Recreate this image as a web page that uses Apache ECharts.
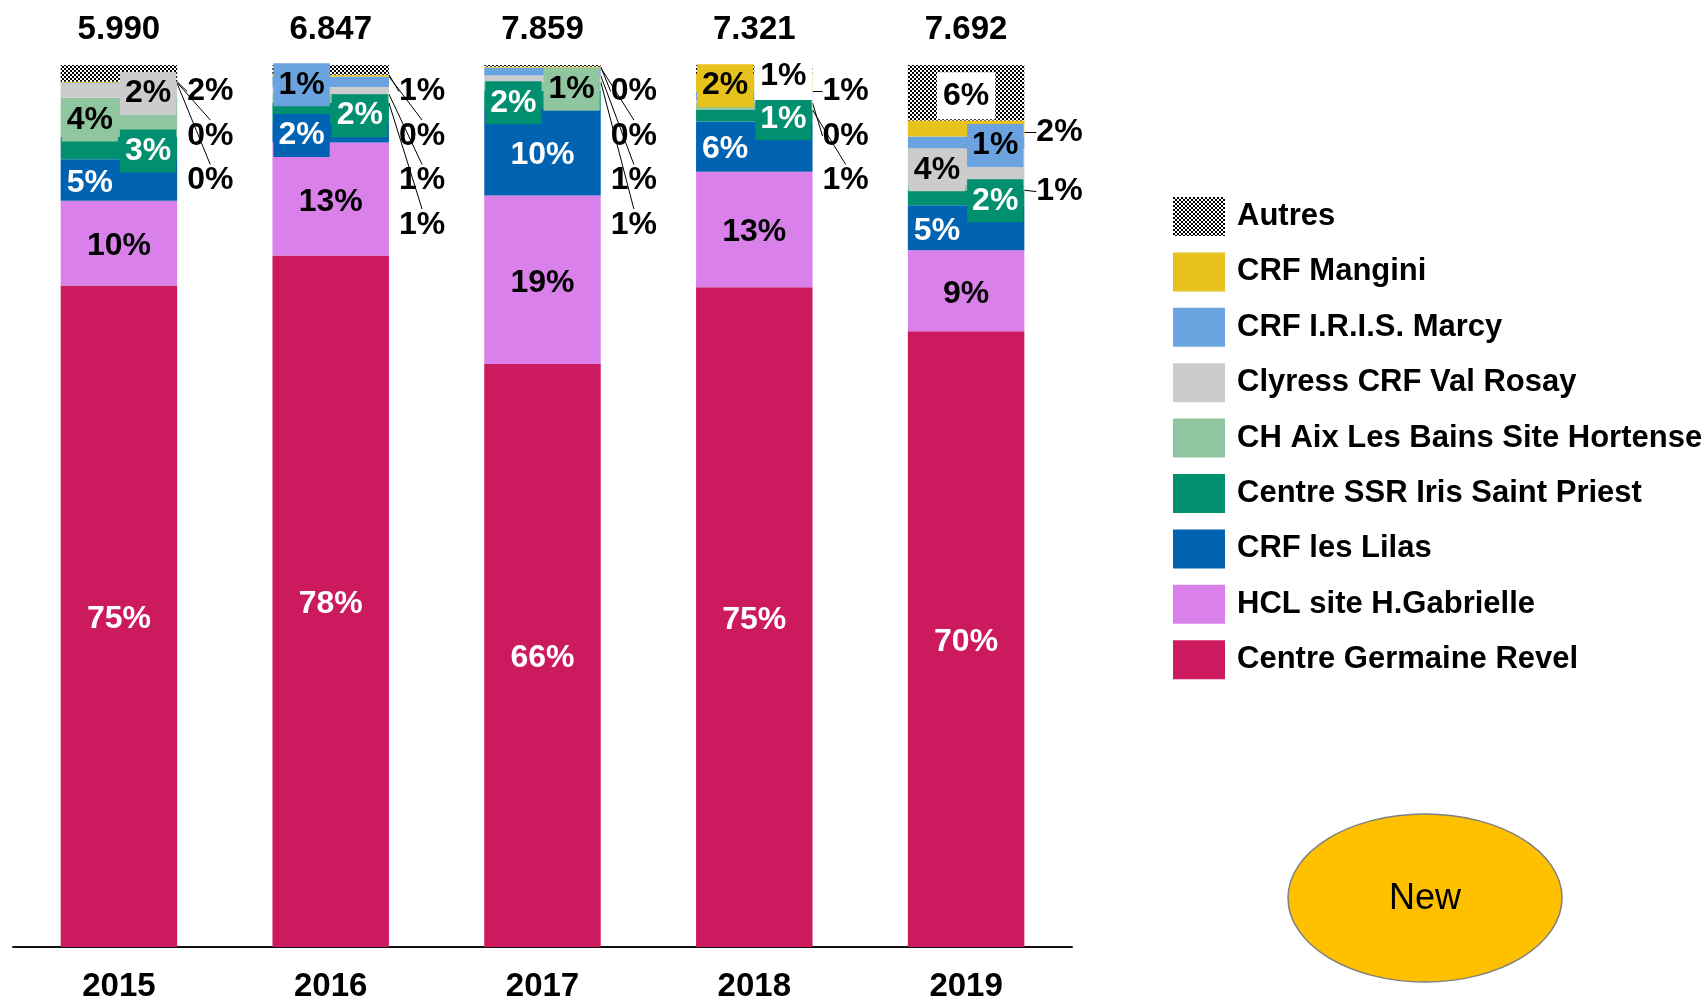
<!DOCTYPE html>
<html><head><meta charset="utf-8">
<script src="https://cdn.jsdelivr.net/npm/echarts@6/dist/echarts.min.js"></script>
<style>html,body{margin:0;padding:0;background:#fff}#c{width:1707px;height:998px}</style>
</head><body><div id="c"></div>
<script>
// ---- data ----
const years = ['2015', '2016', '2017', '2018', '2019'];
const totals = ['5.990', '6.847', '7.859', '7.321', '7.692'];
const seriesNames = ['Centre Germaine Revel', 'HCL site H.Gabrielle', 'CRF les Lilas',
  'Centre SSR Iris Saint Priest', 'CH Aix Les Bains Site Hortense', 'Clyress CRF Val Rosay',
  'CRF I.R.I.S. Marcy', 'CRF Mangini', 'Autres'];
const revel     = [75.0, 78.4, 66.1, 74.8, 69.8];
const gabrielle = [9.6, 12.8, 19.1, 13.1, 9.2];
const lilas     = [4.7, 2.3, 9.8, 5.7, 5.1];
const ssr       = [2.6, 2.2, 2.1, 1.3, 1.7];
const hortense  = [4.4, 1.0, 1.0, 0.8, 0.6];
const clyress   = [1.6, 0.8, 0.7, 0.3, 4.1];
const marcy     = [0.1, 1.2, 0.9, 1.0, 1.4];
const mangini   = [0.1, 0.2, 0.1, 2.0, 1.8];
const autres    = [1.9, 1.1, 0.2, 1.0, 6.3];
const values = [revel, gabrielle, lilas, ssr, hortense, clyress, marcy, mangini, autres];

// ---- style / layout ----
const FONT = '"Liberation Sans", Arial, sans-serif';
const pc = document.createElement('canvas');
pc.width = 4; pc.height = 4;
const pctx = pc.getContext('2d');
pctx.fillStyle = '#fff'; pctx.fillRect(0, 0, 4, 4);
pctx.fillStyle = '#000'; pctx.fillRect(0, 0, 2, 2); pctx.fillRect(2, 2, 2, 2);
const colors = ['#CC1A5E', '#D980EA', '#0063B1', '#008F6F', '#8FC6A0', '#CCCCCC', '#6AA3E0', '#E7C11C',
  { image: pc, repeat: 'repeat' }];
const textColors = ['#fff', '#000', '#fff', '#fff', '#000', '#000', '#000', '#000', '#000'];
// label placement: c=center, l/r=left/right half, L/R=boxed left/right, o#=outside slot, a=outside aligned,
// W=white box right half, C=white box centre
const place = [
  ['c', 'c', 'c', 'c', 'c'],
  ['c', 'c', 'c', 'c', 'c'],
  ['l', 'L', 'c', 'l', 'l'],
  ['R', 'R', 'L', 'R', 'R'],
  ['L', 'o3', 'R', 'o2', 'a'],
  ['R', 'o2', 'o3', 'o1', 'L'],
  ['o2', 'L', 'o2', 'o0', 'R'],
  ['o1', 'o1', 'o1', 'L', 'a'],
  ['o0', 'o0', 'o0', 'W', 'C']
];
const GRID_TOP = 65;
const DY = 3;

const series = values.map((vals, s) => ({
  name: seriesNames[s],
  type: 'bar',
  stack: 'all',
  barWidth: '55%',
  itemStyle: { color: colors[s] },
  label: {
    show: true,
    position: 'inside',
    fontFamily: FONT,
    fontWeight: 'bold',
    fontSize: 32,
    color: textColors[s],
    formatter: p => Math.round(p.value) + '%'
  },
  labelLine: { show: false, lineStyle: { color: '#000', width: 1 } },
  data: vals.map((v, i) => {
    const p = place[s][i];
    const item = { value: v, label: {} };
    if (p === 'L' || p === 'R') {
      item.label = { backgroundColor: colors[s], padding: [6, 5, 5, 5] };
    } else if (p === 'W' || p === 'C') {
      item.label = { backgroundColor: '#fff', color: '#000', padding: [8, 6, 7, 6] };
    } else if (p[0] === 'o' || p === 'a') {
      item.label = { color: '#000' };
      item.labelLine = { show: true, lineStyle: { color: '#000', width: 1 } };
    }
    return item;
  })
}));

const chart = echarts.init(document.getElementById('c'), null, { renderer: 'canvas' });
chart.setOption({
  animation: false,
  backgroundColor: '#fff',
  grid: { left: 13, right: 635, top: GRID_TOP, bottom: 51, containLabel: false, outerBoundsMode: 'none' },
  legend: {
    orient: 'vertical',
    left: 1173,
    top: 197,
    padding: 0,
    itemWidth: 52,
    itemHeight: 39,
    itemGap: 16.4,
    icon: 'rect',
    data: seriesNames.slice().reverse(),
    textStyle: { fontFamily: FONT, fontWeight: 'bold', fontSize: 31, color: '#000', lineHeight: 31, padding: [8, 0, 0, 7] }
  },
  xAxis: [{
    type: 'category',
    data: years,
    axisLine: { lineStyle: { color: '#111', width: 2 } },
    axisTick: { show: false },
    axisLabel: { interval: 0, margin: 23, fontFamily: FONT, fontWeight: 'bold', fontSize: 33, color: '#000' }
  }, {
    type: 'category',
    position: 'top',
    data: totals,
    axisLine: { show: false },
    axisTick: { show: false },
    axisLabel: { interval: 0, margin: 19, fontFamily: FONT, fontWeight: 'bold', fontSize: 33, color: '#000' }
  }],
  yAxis: { type: 'value', min: 0, max: 100, show: false },
  series: series,
  labelLayout: function (params) {
    const s = params.seriesIndex, i = params.dataIndex;
    const p = place[s] && place[s][i];
    const r = params.rect;
    if (!p) return {};
    const cy = r.y + r.height / 2 + DY;
    if (p === 'c') return { x: r.x + r.width / 2, y: cy, align: 'center', verticalAlign: 'middle' };
    if (p === 'l' || p === 'L') return { x: r.x + r.width * 0.25, y: cy, align: 'center', verticalAlign: 'middle' };
    if (p === 'r' || p === 'R') return { x: r.x + r.width * 0.75, y: cy, align: 'center', verticalAlign: 'middle' };
    if (p === 'W') return { x: r.x + r.width * 0.75, y: cy + 4, align: 'center', verticalAlign: 'middle' };
    if (p === 'C') return { x: r.x + r.width / 2, y: cy, align: 'center', verticalAlign: 'middle' };
    if (p === 'a') return { x: r.x + r.width + 12, y: cy + 1, align: 'left', verticalAlign: 'middle' };
    if (p[0] === 'o') {
      const k = +p.slice(1);
      return { x: r.x + r.width + 10, y: GRID_TOP + 26.5 + 44.5 * k, align: 'left', verticalAlign: 'middle' };
    }
    return {};
  },
  graphic: [{
    type: 'ellipse',
    shape: { cx: 1425, cy: 898, rx: 137, ry: 84 },
    style: { fill: '#FFC000', stroke: '#7F7F7F', lineWidth: 1.5 },
    z: 10
  }, {
    type: 'text',
    x: 1425, y: 899,
    style: { text: 'New', fontFamily: FONT, fontSize: 36, fill: '#000', align: 'center', verticalAlign: 'middle', textAlign: 'center', textVerticalAlign: 'middle' },
    z: 11
  }]
});
</script></body></html>
